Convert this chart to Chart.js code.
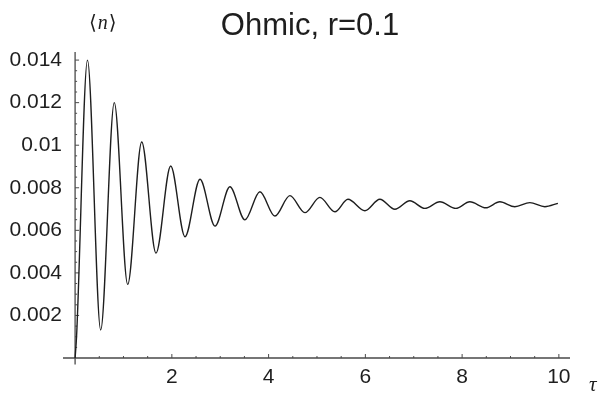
<!DOCTYPE html>
<html>
<head>
<meta charset="utf-8">
<script src="https://cdn.jsdelivr.net/npm/chart.js@4.4.0/dist/chart.umd.min.js"></script>
<style>
  html, body { margin: 0; padding: 0; background: #fff; }
</style>
</head>
<body>
<canvas id="myChart" width="603" height="394"></canvas>
<script>
// <n>(tau) at the turning points of the oscillation
const tauValues = [0, 0.03, 0.256, 0.529, 0.810, 1.087, 1.377, 1.672, 1.976, 2.272, 2.582, 2.892,
  3.20, 3.51, 3.82, 4.13, 4.44, 4.75, 5.06, 5.37, 5.64, 5.99, 6.30, 6.61, 6.92, 7.23, 7.54,
  7.87, 8.16, 8.49, 8.78, 9.09, 9.40, 9.71, 9.98];
const nValues = [0, 0.0010, 0.01400, 0.00132, 0.01200, 0.00346, 0.01015, 0.00493, 0.00902, 0.00570, 0.00840, 0.00620,
  0.00805, 0.00649, 0.00781, 0.00667, 0.00763, 0.00683, 0.00755, 0.00687, 0.00746, 0.00692, 0.00746, 0.00699, 0.00739, 0.00703, 0.00734,
  0.00703, 0.00734, 0.00706, 0.00734, 0.00711, 0.00730, 0.00711, 0.00727];

const xTickValues = [2, 4, 6, 8, 10];
const yTickValues = [0.002, 0.004, 0.006, 0.008, 0.01, 0.012, 0.014];
const yTickLabels = ["0.002", "0.004", "0.006", "0.008", "0.01", "0.012", "0.014"];
const titleText = "Ohmic, r=0.1";

const ink = "#1e1e1e";
const sansFont = '"Liberation Sans", Arial, sans-serif';
const serifFont = '"Liberation Serif", "DejaVu Serif", serif';

// axis lines through the origin, inward tick marks, title and axis labels
const axesPlugin = {
  id: "axesThroughOrigin",
  beforeDatasetsDraw(chart) {
    const { ctx, chartArea } = chart;
    const xs = chart.scales.x, ys = chart.scales.y;
    const x0 = xs.getPixelForValue(0), y0 = ys.getPixelForValue(0);
    ctx.save();
    ctx.strokeStyle = "#4a4a4a";
    ctx.lineWidth = 1.3;
    ctx.beginPath();
    ctx.moveTo(chartArea.left, y0);
    ctx.lineTo(chartArea.right, y0);
    ctx.moveTo(x0, chartArea.top);
    ctx.lineTo(x0, chartArea.bottom);
    ctx.stroke();

    ctx.lineWidth = 1;
    ctx.beginPath();
    for (let k = 1; k <= 20; k++) {
      const px = xs.getPixelForValue(k * 0.5);
      const len = k % 4 === 0 ? 4 : 2;
      ctx.moveTo(px, y0);
      ctx.lineTo(px, y0 - len);
    }
    for (let k = 1; k <= 28; k++) {
      const py = ys.getPixelForValue(k * 0.0005);
      const len = k % 4 === 0 ? 4 : 2;
      ctx.moveTo(x0, py);
      ctx.lineTo(x0 + len, py);
    }
    ctx.stroke();
    ctx.restore();
  },
  afterDraw(chart) {
    const { ctx } = chart;
    ctx.save();
    ctx.fillStyle = ink;

    // title
    ctx.textBaseline = "alphabetic";
    ctx.textAlign = "center";
    ctx.font = "31px " + sansFont;
    ctx.fillText(titleText, 310, 35);

    // <n> label above the y axis
    ctx.textAlign = "left";
    ctx.font = "20px " + serifFont;
    ctx.fillText("\u27E8", 89, 29);
    const w = ctx.measureText("\u27E8").width;
    ctx.font = "italic 20px " + serifFont;
    ctx.fillText("n", 89 + w + 1, 29);
    const wn = ctx.measureText("n").width;
    ctx.font = "20px " + serifFont;
    ctx.fillText("\u27E9", 89 + w + wn + 2, 29);

    // tau label right of the x axis
    ctx.font = "italic 21px " + serifFont;
    ctx.fillText("\u03C4", 589, 391);
    ctx.restore();
  }
};

const ctx = document.getElementById("myChart").getContext("2d");
const myChart = new Chart(ctx, {
  type: "line",
  data: {
    datasets: [{
      data: tauValues.map((t, i) => ({ x: t, y: nValues[i] })),
      borderColor: ink,
      borderWidth: 1.4,
      pointRadius: 0,
      fill: false,
      cubicInterpolationMode: "monotone"
    }]
  },
  options: {
    responsive: false,
    animation: false,
    layout: { padding: { left: 0, right: 33, top: 52, bottom: 0 } },
    plugins: {
      legend: { display: false },
      tooltip: { enabled: false },
      title: { display: false }
    },
    scales: {
      x: {
        type: "linear",
        min: -0.25,
        max: 10.23,
        afterBuildTicks: (scale) => { scale.ticks = xTickValues.map(v => ({ value: v })); },
        afterFit: (scale) => { scale.height = 29.6; },
        grid: { display: false, drawTicks: false },
        border: { display: false },
        ticks: {
          color: ink,
          padding: 0,
          maxRotation: 0,
          font: { family: sansFont, size: 21 },
          callback: (v) => String(v)
        }
      },
      y: {
        type: "linear",
        min: -0.0003,
        max: 0.01438,
        afterBuildTicks: (scale) => { scale.ticks = yTickValues.map(v => ({ value: v })); },
        afterFit: (scale) => { scale.width = 63; },
        grid: { display: false, drawTicks: false },
        border: { display: false },
        ticks: {
          color: ink,
          padding: 1,
          font: { family: sansFont, size: 21 },
          callback: (v) => yTickLabels[yTickValues.indexOf(v)]
        }
      }
    }
  },
  plugins: [axesPlugin]
});
</script>
</body>
</html>
